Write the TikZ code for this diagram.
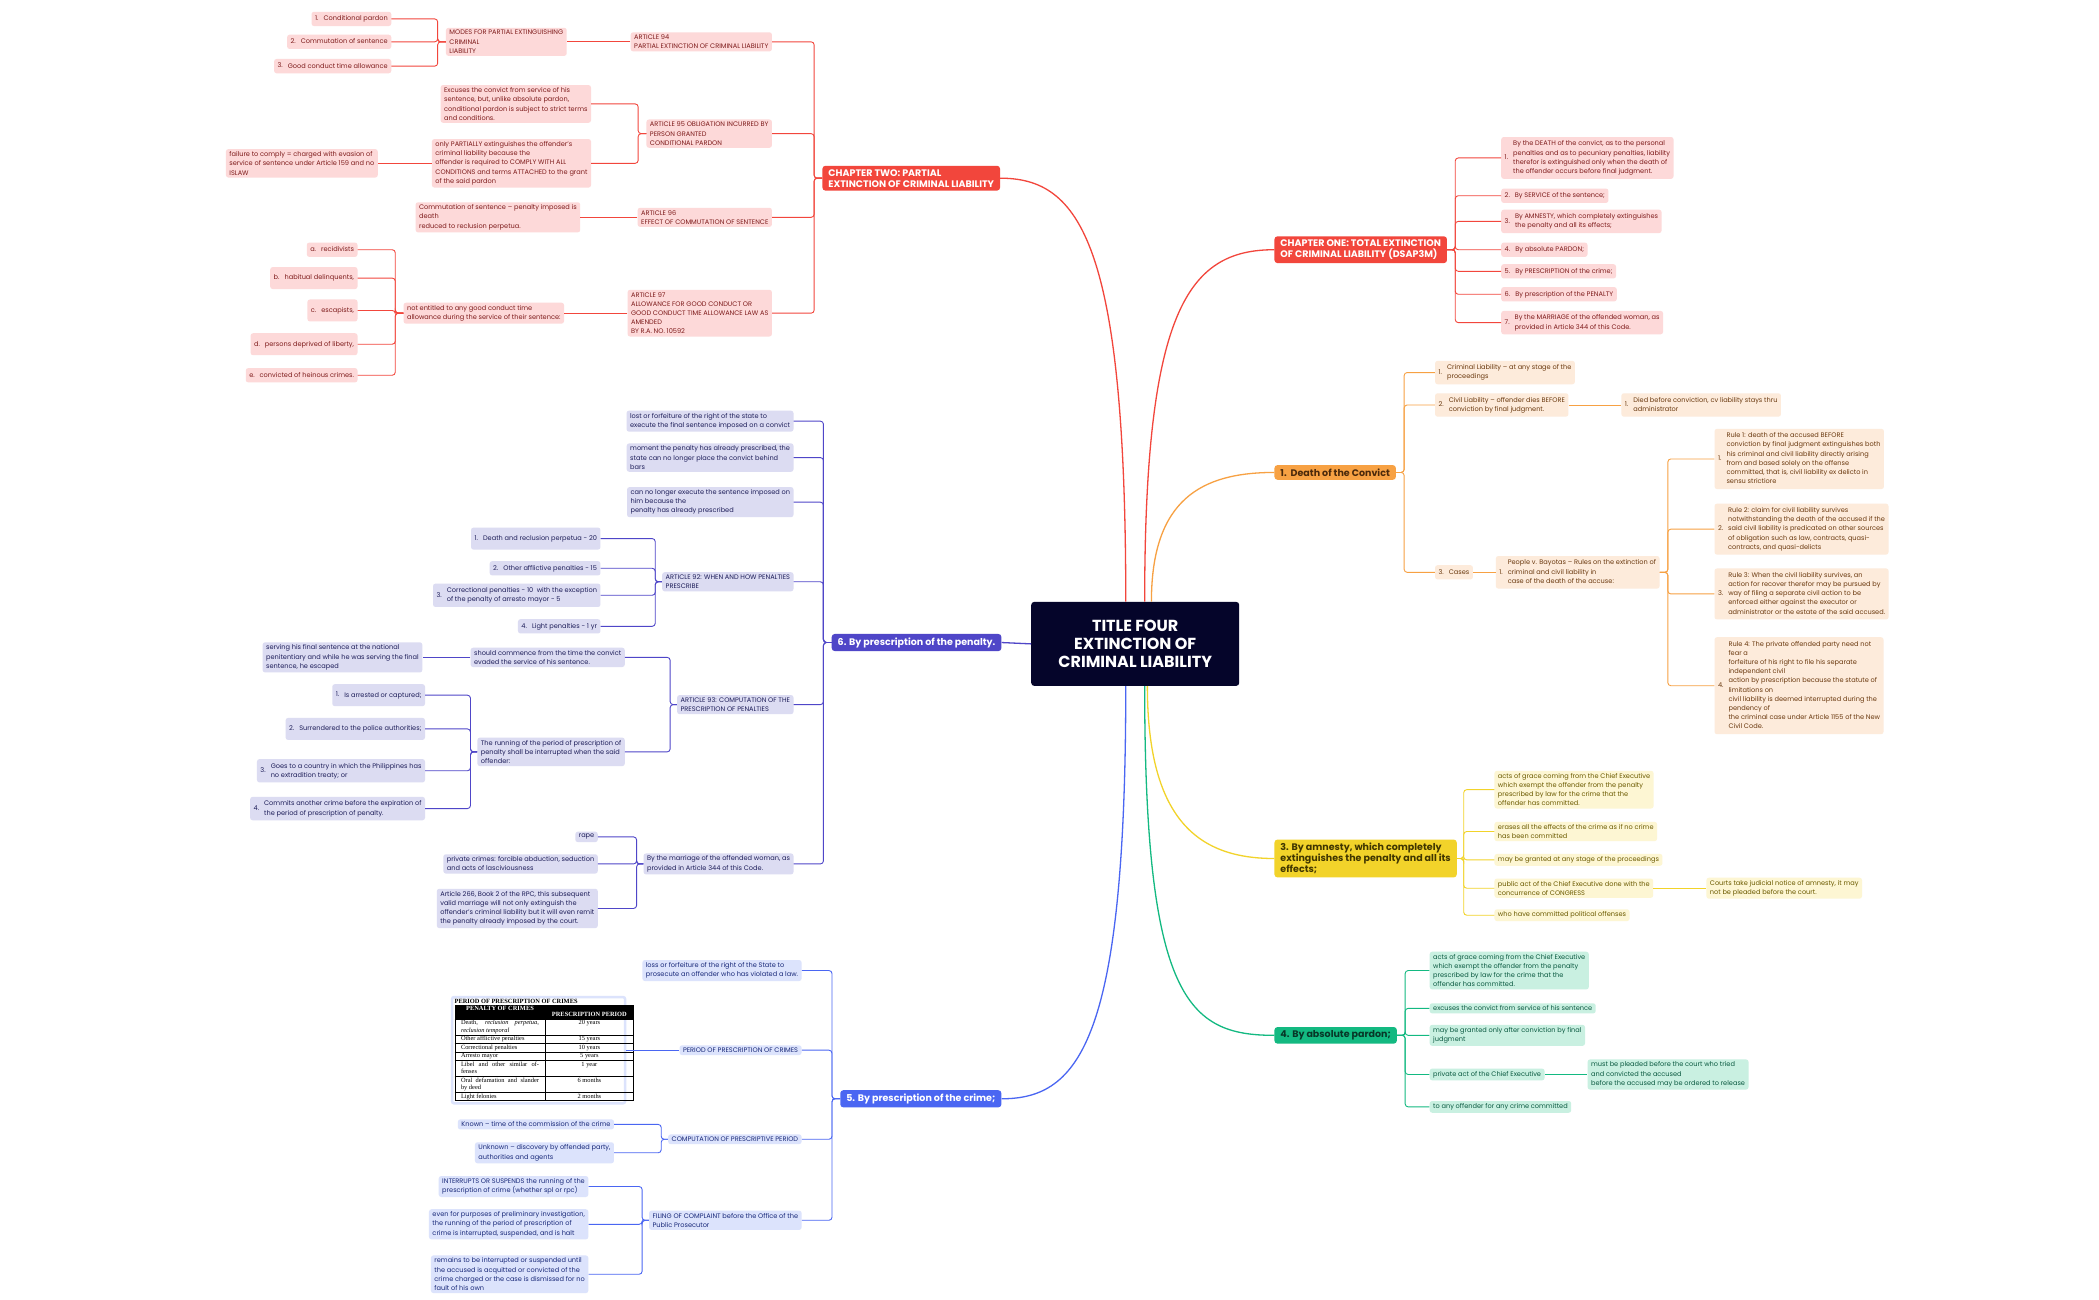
\documentclass[tikz,border=0pt]{standalone}
\usepackage{fontspec}
\setmainfont{Poppins}
\newfontfamily\tabfont{Liberation Serif}
\usepackage{colortbl}
\usetikzlibrary{calc}
\definecolor{rootC}{HTML}{05052A}
\definecolor{rd}{HTML}{F2463C}\definecolor{pkF}{HTML}{FDD9D9}\definecolor{pkT}{HTML}{7F1D1D}
\definecolor{og}{HTML}{F7A143}\definecolor{ogF}{HTML}{FDEBDB}\definecolor{ogT}{HTML}{6B3A10}
\definecolor{yl}{HTML}{F2D32A}\definecolor{ylF}{HTML}{FDF6D3}\definecolor{ylT}{HTML}{6B5A00}
\definecolor{gr}{HTML}{13B981}\definecolor{grF}{HTML}{C9F0E1}\definecolor{grT}{HTML}{0B5A41}
\definecolor{pu}{HTML}{4F46C8}\definecolor{puF}{HTML}{DCDCF2}\definecolor{puT}{HTML}{1F1F5A}
\definecolor{bl}{HTML}{4A66F2}\definecolor{blF}{HTML}{DCE3FC}\definecolor{blT}{HTML}{1A2A7A}
\newcommand\fs{\fontsize{6.6}{9.2}\selectfont}
\newcommand\nit[2]{\begin{tabular}{@{}l@{\hspace{5pt}}l@{}}#1&\begin{tabular}[c]{@{}l@{}}#2\end{tabular}\end{tabular}}
\newcommand\prestable{%
\begin{minipage}{168pt}\tabfont\fontsize{6.4}{7.6}\selectfont
\textbf{PERIOD OF PRESCRIPTION OF CRIMES}\par\vspace{0.5pt}
\setlength\arrayrulewidth{0.4pt}\renewcommand\arraystretch{1.05}%
\begin{tabular}{@{}|p{78pt}|>{\centering\arraybackslash}p{76pt}|@{}}
\rowcolor{black}\multicolumn{1}{|c|}{\color{white}\bfseries PENALTY OF CRIMES} & \color{white}\bfseries PRESCRIPTION PERIOD\\\hline
Death, \textit{reclusion perpetua, reclusion temporal} & 20 years\\\hline
Other afflictive penalties & 15 years\\\hline
Correctional penalties & 10 years\\\hline
Arresto mayor & 5 years\\\hline
Libel and other similar offenses & 1 year\\\hline
Oral defamation and slander by deed & 6 months\\\hline
Light felonies & 2 months\\\hline
\end{tabular}\end{minipage}}
\tikzset{
 b/.style={rounded corners=2.5pt, inner xsep=3.5pt, inner ysep=2.5pt, align=left, font=\fs},
 pk/.style={b, fill=pkF, text=pkT}, ogb/.style={b, fill=ogF, text=ogT},
 ylb/.style={b, fill=ylF, text=ylT}, grb/.style={b, fill=grF, text=grT},
 pub/.style={b, fill=puF, text=puT}, blb/.style={b, fill=blF, text=blT},
 W/.style={anchor=west}, E/.style={anchor=east},
 mh/.style={minimum height=22pt},
 main/.style={rounded corners=3pt, inner xsep=6pt, inner ysep=3.5pt, align=left, font=\fontsize{9.5}{11}\selectfont\bfseries},
 cr/.style={draw=rd, line width=0.9pt, rounded corners=3pt},
 co/.style={draw=og, line width=0.9pt, rounded corners=3pt},
 cy/.style={draw=yl, line width=0.9pt, rounded corners=3pt},
 cg/.style={draw=gr, line width=0.9pt, rounded corners=3pt},
 cp/.style={draw=pu, line width=0.9pt, rounded corners=3pt},
 cb/.style={draw=bl, line width=0.9pt, rounded corners=3pt},
 big/.style={line width=1.3pt},
}
\begin{document}
\begin{tikzpicture}[x=1.35pt,y=-1.35pt]
\useasboundingbox[fill=white] (0,0) rectangle (1555,963);
% root
\node[fill=rootC, text=white, font=\fontsize{16}{18}\selectfont\bfseries, align=center, minimum width=208pt, minimum height=84pt, rounded corners=3pt] (root) at (841,477) {TITLE FOUR\\EXTINCTION OF\\CRIMINAL LIABILITY};
% main
\node[main, W, fill=rd, text=white] (ch1) at (944,185) {CHAPTER ONE: TOTAL EXTINCTION\\OF CRIMINAL LIABILITY (DSAP3M)};
\node[main, W, fill=og, text=ogT!70!black] (death) at (944,350) {1.\ \ Death of the Convict};
\node[main, W, fill=yl, text=ylT!60!black] (amn) at (944,636) {3. By amnesty, which completely\\extinguishes the penalty and all its\\effects;};
\node[main, W, fill=gr, text=grT!60!black] (abs) at (944,767) {4. By absolute pardon;};
\node[main, E, fill=rd, text=white] (ch2) at (741,132) {CHAPTER TWO: PARTIAL\\EXTINCTION OF CRIMINAL LIABILITY};
\node[main, E, fill=pu, text=white] (pen) at (742,476) {6. By prescription of the penalty.};
\node[main, E, fill=bl, text=white] (crime) at (742,814) {5. By prescription of the crime;};
% curves
\draw[rd,big] ($(root.north)+(7,0)$) .. controls (848,230) and (880,185) .. (ch1.west);
\draw[og,big] ($(root.north)+(12,0)$) .. controls (853,370) and (890,350) .. (death.west);
\draw[rd,big] ($(root.north)+(-7,0)$) .. controls (834,180) and (800,132) .. (ch2.east);
\draw[pu,big] (root.west) -- (pen.east);
\draw[yl,big] ($(root.south)+(9,0)$) .. controls (850,610) and (890,636) .. (amn.west);
\draw[gr,big] ($(root.south)+(7,0)$) .. controls (848,740) and (880,767) .. (abs.west);
\draw[bl,big] ($(root.south)+(-7,0)$) .. controls (834,770) and (800,814) .. (crime.east);
% CH1 children
\node[pk,W] (c11) at (1112,117) {\nit{1.}{By the DEATH of the convict, as to the personal\\penalties and as to pecuniary penalties, liability\\therefor is extinguished only when the death of\\the offender occurs before final judgment.}};
\node[pk,W] (c12) at (1112,145) {\nit{2.}{By SERVICE of the sentence;}};
\node[pk,W] (c13) at (1112,164) {\nit{3.}{By AMNESTY, which completely extinguishes\\the penalty and all its effects;}};
\node[pk,W] (c14) at (1112,185) {\nit{4.}{By absolute PARDON;}};
\node[pk,W] (c15) at (1112,201) {\nit{5.}{By PRESCRIPTION of the crime;}};
\node[pk,W] (c16) at (1112,218) {\nit{6.}{By prescription of the PENALTY}};
\node[pk,W] (c17) at (1112,239) {\nit{7.}{By the MARRIAGE of the offended woman, as\\provided in Article 344 of this Code.}};
\foreach \c in {c11,c12,c13,c14,c15,c16,c17} \draw[cr] (ch1.east) -- ++(6,0) |- (\c.west);
% death children
\node[ogb,W] (d1) at (1063,276) {\nit{1.}{Criminal Liability – at any stage of the\\proceedings}};
\node[ogb,W] (d2) at (1063,300) {\nit{2.}{Civil Liability – offender dies BEFORE\\conviction by final judgment.}};
\node[ogb,W] (d21) at (1201,300) {\nit{1.}{Died before conviction, cv liability stays thru\\administrator}};
\node[ogb,W] (d3) at (1063,424) {\nit{3.}{Cases}};
\node[ogb,W] (d31) at (1108,424) {\nit{1.}{People v. Bayotas – Rules on the extinction of\\criminal and civil liability in\\case of the death of the accuse:}};
\node[ogb,W] (r1) at (1270,340) {\nit{1.}{Rule 1: death of the accused BEFORE\\conviction by final judgment extinguishes both\\his criminal and civil liability directly arising\\from and based solely on the offense\\committed, that is, civil liability ex delicto in\\sensu strictiore}};
\node[ogb,W] (r2) at (1270,392) {\nit{2.}{Rule 2: claim for civil liability survives\\notwithstanding the death of the accused if the\\said civil liability is predicated on other sources\\of obligation such as law, contracts, quasi-\\contracts, and quasi-delicts}};
\node[ogb,W] (r3) at (1270,440) {\nit{3.}{Rule 3: When the civil liability survives, an\\action for recover therefor may be pursued by\\way of filing a separate civil action to be\\enforced either against the executor or\\administrator or the estate of the said accused.}};
\node[ogb,W] (r4) at (1270,508) {\nit{4.}{Rule 4: The private offended party need not\\fear a\\forfeiture of his right to file his separate\\independent civil\\action by prescription because the statute of\\limitations on\\civil liability is deemed interrupted during the\\pendency of\\the criminal case under Article 1155 of the New\\Civil Code.}};
\foreach \c in {d1,d2,d3} \draw[co] (death.east) -- ++(6,0) |- (\c.west);
\draw[co] (d2.east) -- (d21.west);
\draw[co] (d3.east) -- (d31.west);
\foreach \c in {r1,r2,r3,r4} \draw[co] (d31.east) -- ++(6,0) |- (\c.west);
% amnesty children
\node[ylb,W] (a1) at (1107,585) {acts of grace coming from the Chief Executive\\which exempt the offender from the penalty\\prescribed by law for the crime that the\\offender has committed.};
\node[ylb,W] (a2) at (1107,616) {erases all the effects of the crime as if no crime\\has been committed};
\node[ylb,W] (a3) at (1107,637) {may be granted at any stage of the proceedings};
\node[ylb,W] (a4) at (1107,658) {public act of the Chief Executive done with the\\concurrence of CONGRESS};
\node[ylb,W] (a41) at (1264,658) {Courts take judicial notice of amnesty, it may\\not be pleaded before the court.};
\node[ylb,W] (a5) at (1107,678) {who have committed political offenses};
\foreach \c in {a1,a2,a3,a4,a5} \draw[cy] (amn.east) -- ++(5,0) |- (\c.west);
\draw[cy] (a4.east) -- (a41.west);
% green
\node[grb,W] (g1) at (1059,719) {acts of grace coming from the Chief Executive\\which exempt the offender from the penalty\\prescribed by law for the crime that the\\offender has committed.};
\node[grb,W] (g2) at (1059,747) {excuses the convict from service of his sentence};
\node[grb,W] (g3) at (1059,767) {may be granted only after conviction by final\\judgment};
\node[grb,W] (g4) at (1059,796) {private act of the Chief Executive};
\node[grb,W] (g41) at (1176,796) {must be pleaded before the court who tried\\and convicted the accused\\before the accused may be ordered to release};
\node[grb,W] (g5) at (1059,820) {to any offender for any crime committed};
\foreach \c in {g1,g2,g3,g4,g5} \draw[cg] (abs.east) -- ++(6,0) |- (\c.west);
\draw[cg] (g4.east) -- (g41.west);
% CH2
\node[pk,E] (k1) at (572,31) {ARTICLE 94\\PARTIAL EXTINCTION OF CRIMINAL LIABILITY};
\node[pk,E] (k2) at (572,99) {ARTICLE 95 OBLIGATION INCURRED BY\\PERSON GRANTED\\CONDITIONAL PARDON};
\node[pk,E] (k3) at (572,161) {ARTICLE 96\\EFFECT OF COMMUTATION OF SENTENCE};
\node[pk,E] (k4) at (572,232) {ARTICLE 97\\ALLOWANCE FOR GOOD CONDUCT OR\\GOOD CONDUCT TIME ALLOWANCE LAW AS\\AMENDED\\BY R.A. NO. 10592};
\foreach \c in {k1,k2,k3,k4} \draw[cr] (ch2.west) -- ++(-6,0) |- (\c.east);
\node[pk,E] (k11) at (420,31) {MODES FOR PARTIAL EXTINGUISHING\\CRIMINAL\\LIABILITY};
\draw[cr] (k1.west) -- (k11.east);
\node[pk,E] (k111) at (290,14) {\nit{1.}{Conditional pardon}};
\node[pk,E] (k112) at (290,31) {\nit{2.}{Commutation of sentence}};
\node[pk,E] (k113) at (290,49) {\nit{3.}{Good conduct time allowance}};
\foreach \c in {k111,k112,k113} \draw[cr] (k11.west) -- ++(-6,0) |- (\c.east);
\node[pk,E] (k21) at (438,77) {Excuses the convict from service of his\\sentence, but, unlike absolute pardon,\\conditional pardon is subject to strict terms\\and conditions.};
\node[pk,E] (k22) at (438,121) {only PARTIALLY extinguishes the offender's\\criminal liability because the\\offender is required to COMPLY WITH ALL\\CONDITIONS and terms ATTACHED to the grant\\of the said pardon};
\foreach \c in {k21,k22} \draw[cr] (k2.west) -- ++(-6,0) |- (\c.east);
\node[pk,E] (k221) at (280,121) {failure to comply = charged with evasion of\\service of sentence under Article 159 and no\\ISLAW};
\draw[cr] (k22.west) -- (k221.east);
\node[pk,E] (k31) at (430,161) {Commutation of sentence – penalty imposed is\\death\\reduced to reclusion perpetua.};
\draw[cr] (k3.west) -- (k31.east);
\node[pk,E] (k41) at (418,232) {not entitled to any good conduct time\\allowance during the service of their sentence:};
\draw[cr] (k4.west) -- (k41.east);
\node[pk,E] (k411) at (265,185) {\nit{a.}{recidivists}};
\node[pk,E,mh] (k412) at (265,206) {\nit{b.}{habitual delinquents,}};
\node[pk,E,mh] (k413) at (265,230) {\nit{c.}{escapists,}};
\node[pk,E,mh] (k414) at (265,255) {\nit{d.}{persons deprived of liberty,}};
\node[pk,E] (k415) at (265,278) {\nit{e.}{convicted of heinous crimes.}};
\foreach \c in {k411,k412,k413,k414,k415} \draw[cr] (k41.west) -- ++(-6,0) |- (\c.east);
% penalty
\node[pub,E] (p1) at (588,312) {lost or forfeiture of the right of the state to\\execute the final sentence imposed on a convict};
\node[pub,E] (p2) at (588,339) {moment the penalty has already prescribed, the\\state can no longer place the convict behind\\bars};
\node[pub,E] (p3) at (588,372) {can no longer execute the sentence imposed on\\him because the\\penalty has already prescribed};
\node[pub,E] (p4) at (588,431) {ARTICLE 92: WHEN AND HOW PENALTIES\\PRESCRIBE};
\node[pub,E] (p5) at (588,522) {ARTICLE 93: COMPUTATION OF THE\\PRESCRIPTION OF PENALTIES};
\node[pub,E] (p6) at (588,640) {By the marriage of the offended woman, as\\provided in Article 344 of this Code.};
\foreach \c in {p1,p2,p3,p4,p5,p6} \draw[cp] (pen.west) -- ++(-6,0) |- (\c.east);
\node[pub,E,mh] (p41) at (445,399) {\nit{1.}{Death and reclusion perpetua - 20}};
\node[pub,E] (p42) at (445,421) {\nit{2.}{Other afflictive penalties - 15}};
\node[pub,E] (p43) at (445,441) {\nit{3.}{Correctional penalties - 10 \ with the exception\\of the penalty of arresto mayor - 5}};
\node[pub,E] (p44) at (445,464) {\nit{4.}{Light penalties - 1 yr}};
\foreach \c in {p41,p42,p43,p44} \draw[cp] (p4.west) -- ++(-5,0) |- (\c.east);
\node[pub,E] (p51) at (463,487) {should commence from the time the convict\\evaded the service of his sentence.};
\node[pub,E] (p52) at (463,557) {The running of the period of prescription of\\penalty shall be interrupted when the said\\offender:};
\foreach \c in {p51,p52} \draw[cp] (p5.west) -- ++(-5,0) |- (\c.east);
\node[pub,E] (p511) at (313,487) {serving his final sentence at the national\\penitentiary and while he was serving the final\\sentence, he escaped};
\draw[cp] (p51.west) -- (p511.east);
\node[pub,E,mh] (p521) at (315,515) {\nit{1.}{Is arrested or captured;}};
\node[pub,E,mh] (p522) at (315,540) {\nit{2.}{Surrendered to the police authorities;}};
\node[pub,E] (p523) at (315,571) {\nit{3.}{Goes to a country in which the Philippines has\\no extradition treaty; or\\ }};
\node[pub,E] (p524) at (315,599) {\nit{4.}{Commits another crime before the expiration of\\the period of prescription of penalty.}};
\foreach \c in {p521,p522,p523,p524} \draw[cp] (p52.west) -- ++(-5,0) |- (\c.east);
\node[pub,E] (p61) at (443,620) {rape};
\node[pub,E] (p62) at (443,640) {private crimes: forcible abduction, seduction\\and acts of lasciviousness};
\node[pub,E] (p63) at (443,673) {Article 266, Book 2 of the RPC, this subsequent\\valid marriage will not only extinguish the\\offender's criminal liability but it will even remit\\the penalty already imposed by the court.};
\foreach \c in {p61,p62,p63} \draw[cp] (p6.west) -- ++(-5,0) |- (\c.east);
% crime
\node[blb,E] (q1) at (594,719) {loss or forfeiture of the right of the State to\\prosecute an offender who has violated a law.};
\node[blb,E] (q2) at (594,778) {PERIOD OF PRESCRIPTION OF CRIMES};
\node[blb,E] (q3) at (594,844) {COMPUTATION OF PRESCRIPTIVE PERIOD};
\node[blb,E] (q4) at (594,904) {FILING OF COMPLAINT before the Office of the\\Public Prosecutor};
\foreach \c in {q1,q2,q3,q4} \draw[cb] (crime.west) -- ++(-6,0) |- (\c.east);
\node[E, fill=white, draw=blF, line width=2.5pt, rounded corners=2pt, inner sep=2.5pt] (q21) at (464,778) {\prestable};
\draw[cb] (q2.west) -- (q21.east);
\node[blb,E] (q31) at (455,833) {Known – time of the commission of the crime};
\node[blb,E] (q32) at (455,854) {Unknown – discovery by offended party,\\authorities and agents};
\foreach \c in {q31,q32} \draw[cb] (q3.west) -- ++(-5,0) |- (\c.east);
\node[blb,E] (q41) at (436,879) {INTERRUPTS OR SUSPENDS the running of the\\prescription of crime (whether spl or rpc)};
\node[blb,E] (q42) at (436,907) {even for purposes of preliminary investigation,\\the running of the period of prescription of\\crime is interrupted, suspended, and is halt};
\node[blb,E] (q43) at (436,944) {remains to be interrupted or suspended until\\the accused is acquitted or convicted of the\\crime charged or the case is dismissed for no\\fault of his own};
\foreach \c in {q41,q42,q43} \draw[cb] (q4.west) -- ++(-5,0) |- (\c.east);
\end{tikzpicture}
\end{document}
